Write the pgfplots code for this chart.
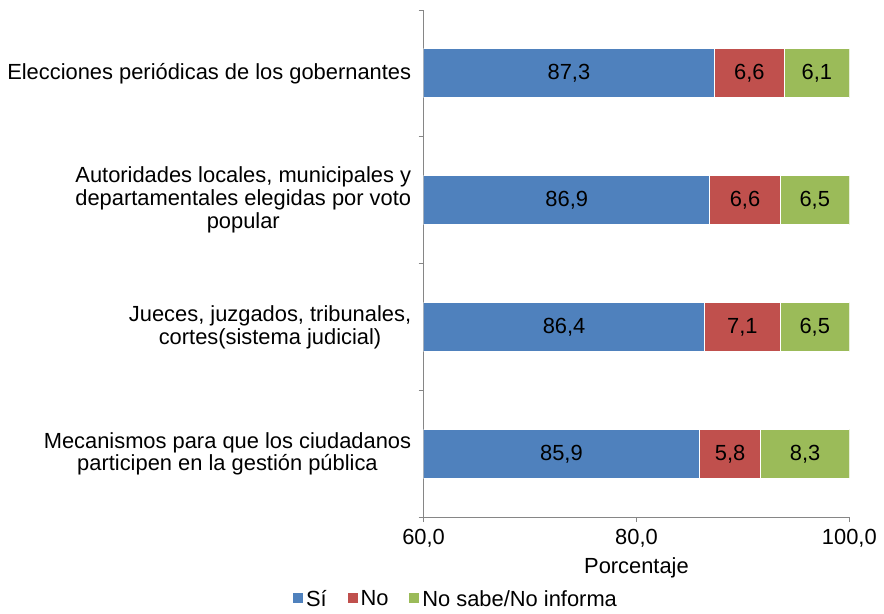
\documentclass[border=0pt]{standalone}
\usepackage{pgfplots}
\pgfplotsset{compat=1.18}
\usepackage{fontspec}
\setmainfont{Liberation Sans}
\definecolor{si}{HTML}{4F81BD}
\definecolor{no}{HTML}{C0504D}
\definecolor{ns}{HTML}{9BBB59}
\definecolor{axgray}{HTML}{868686}
\begin{document}
\fontsize{22}{23}\selectfont
\begin{tikzpicture}
\pgfplotsset{
  base/.style={
    width=428pt, height=510pt, scale only axis,
    xmin=60, xmax=100, ymin=-0.5, ymax=3.5,
  }
}
\begin{axis}[base, name=main,
  xbar stacked, bar width=49pt,
  axis lines=left, axis line style={-, draw=axgray, line width=0.8pt},
  tick align=outside,
  xtick={60,80,100},
  xticklabel style={/pgf/number format/.cd, fixed, fixed zerofill, precision=1, use comma, assume math mode=true},
  x tick style={draw=axgray, line width=0.8pt},
  major tick length=5pt,
  ytick={0,1,2,3},
  yticklabels={{Mecanismos para que los ciudadanos\\participen en la gestión pública},
               {Jueces, juzgados, tribunales,\\cortes(sistema judicial)},
               {Autoridades locales, municipales y\\departamentales elegidas por voto\\popular},
               {Elecciones periódicas de los gobernantes}},
  yticklabel style={align=center},
  y tick style={draw=none},
  extra y ticks={-0.5,0.5,1.5,2.5,3.5},
  extra y tick labels={},
  extra y tick style={y tick style={draw=axgray, line width=0.8pt}},
  xlabel={Porcentaje},
  xlabel style={yshift=5pt},
  legend columns=3,
  legend style={draw=none, at={(0.075,-0.163)}, anchor=center,
    /tikz/every even column/.append style={column sep=18pt}},
  legend image code/.code={\fill[#1] (0pt,-4pt) rectangle (11pt,7pt);},
]
\addplot[fill=si, draw=white, line width=1pt] coordinates {(85.9,0) (86.4,1) (86.9,2) (87.3,3)};
\addlegendentry{Sí}
\addplot[fill=no, draw=white, line width=1pt] coordinates {(5.8,0) (7.1,1) (6.6,2) (6.6,3)};
\addlegendentry{No}
\addplot[fill=ns, draw=white, line width=1pt] coordinates {(8.3,0) (6.5,1) (6.5,2) (6.1,3)};
\addlegendentry{No sabe/No informa}
\end{axis}
\begin{axis}[base, hide axis]
\addplot[draw=none, mark=none, nodes near coords, point meta=explicit symbolic,
  every node near coord/.append style={anchor=center, text=black}]
  coordinates {
  (73.65,3) [87,3] (90.6,3) [6,6] (96.95,3) [6,1]
  (73.45,2) [86,9] (90.2,2) [6,6] (96.75,2) [6,5]
  (73.2,1) [86,4] (89.95,1) [7,1] (96.75,1) [6,5]
  (72.95,0) [85,9] (88.8,0) [5,8] (95.85,0) [8,3]
  };
\end{axis}
\path ([yshift=10pt]main.north);
\end{tikzpicture}
\end{document}
